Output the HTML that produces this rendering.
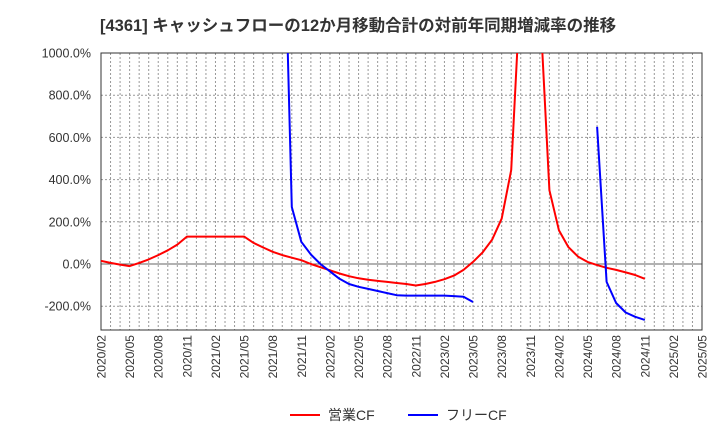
<!DOCTYPE html>
<html><head><meta charset="utf-8"><style>body{margin:0;background:#fff}svg{display:block;font-family:"Liberation Sans","Noto Sans CJK JP",sans-serif}</style></head>
<body>
<svg id="c" width="720" height="440">
<text x="100" y="31" font-size="16.5" font-weight="bold" fill="#333">[4361]  キャッシュフローの12か月移動合計の対前年同期増減率の推移</text>
<defs><clipPath id="pc"><rect x="101" y="53" width="601" height="277"/></clipPath></defs>
<g id="grid"></g><g id="axes"></g><g id="series" clip-path="url(#pc)"></g>
<g>
<line x1="290" y1="415" x2="320" y2="415" stroke="#f00" stroke-width="2"/>
<text x="328" y="420" font-size="14" fill="#333">営業CF</text>
<line x1="408" y1="415" x2="438" y2="415" stroke="#00f" stroke-width="2"/>
<text x="446" y="420" font-size="14" fill="#333">フリーCF</text>
</g>
</svg>
<script>
const xLabels=["2020/02","2020/05","2020/08","2020/11","2021/02","2021/05","2021/08","2021/11","2022/02","2022/05","2022/08","2022/11","2023/02","2023/05","2023/08","2023/11","2024/02","2024/05","2024/08","2024/11","2025/02","2025/05"];
const yTicks=[-200,0,200,400,600,800,1000];
const operatingCF=[15,5,-3,-10,5,22,42,65,92,130,130,130,130,130,130,130,100,78,58,42,30,18,0,-15,-30,-45,-58,-68,-75,-80,-85,-90,-95,-102,-95,-85,-72,-55,-28,10,55,115,215,445,1330,1400,1240,350,160,80,35,10,-5,-18,-28,-40,-52,-70];
const freeCF=[null,null,null,null,null,null,null,null,null,null,null,null,null,null,null,null,null,null,null,2000,270,105,45,0,-35,-70,-95,-108,-118,-128,-138,-148,-150,-150,-150,-150,-150,-152,-155,-180,null,null,null,null,null,null,null,null,null,null,null,null,650,-85,-185,-230,-250,-265];
const X0=101,X1=702,Y0=53,Y1=330;
const xs=i=>X0+i*(X1-X0)/63;
const ys=v=>264-v*(264-53)/1000;
const ns="http://www.w3.org/2000/svg";
function mk(p,t,a){const e=document.createElementNS(ns,t);for(const k in a)e.setAttribute(k,a[k]);p.appendChild(e);return e;}
const g=document.getElementById('grid'),ax=document.getElementById('axes'),s=document.getElementById('series');
for(let i=1;i<63;i++){const l=mk(g,'line',{x1:xs(i),x2:xs(i),y1:Y0,y2:Y1,stroke:'#999','stroke-dasharray':'2,2','stroke-width':1});

}
yTicks.forEach(v=>{const l=mk(g,'line',{x1:X0,x2:X1,y1:ys(v),y2:ys(v),stroke:v===0?'#666':'#999','stroke-dasharray':v===0?'':'2,2','stroke-width':1});


const t=mk(ax,'text',{x:91,y:ys(v)+4.5,'text-anchor':'end','font-size':12.5,fill:'#333'});t.textContent=v.toFixed(1)+'%';

});
const fr=mk(ax,'rect',{x:X0,y:Y0,width:X1-X0,height:Y1-Y0,fill:'none',stroke:'#333'});


xLabels.forEach((lb,k)=>{const x=xs(k*3);const t=mk(ax,'text',{x:x+4.5,y:Y1+5,'text-anchor':'end','font-size':12,fill:'#333',transform:`rotate(-90 ${x+4.5} ${Y1+5})`});t.textContent=lb;

});
function draw(arr,col,name){let d='',pen=false;arr.forEach((v,i)=>{if(v===null){pen=false;return;}d+=(pen?'L':'M')+xs(i).toFixed(1)+','+ys(v).toFixed(1);pen=true;});
const p=mk(s,'path',{d:d,fill:'none',stroke:col,'stroke-width':2,'stroke-linejoin':'round'});

}
draw(operatingCF,'#f00','operating-cf-line');
draw(freeCF,'#00f','free-cf-line');
</script>
</body></html>
